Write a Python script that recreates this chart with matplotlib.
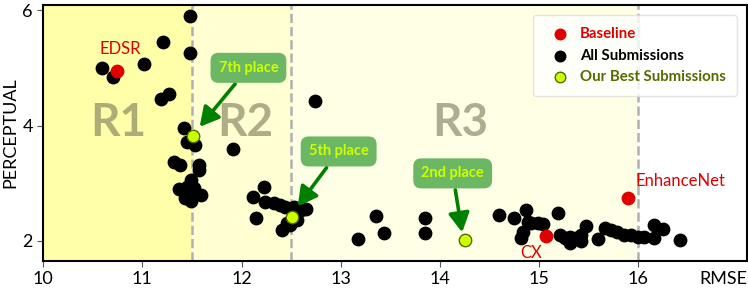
import matplotlib
matplotlib.use('Agg')
import matplotlib.pyplot as plt
import numpy as np

plt.rcParams['font.family'] = ['Lato', 'DejaVu Sans']

# all submissions (RMSE, perceptual)
sub_rmse = [10.59, 10.70, 11.02, 11.21, 11.48, 11.48, 11.27, 11.19, 11.42, 11.45, 11.53,
            11.32, 11.38, 11.57, 11.57, 11.49, 11.37, 11.45, 11.52, 11.59, 11.43, 11.49, 11.47,
            11.91, 12.12, 12.23, 12.15, 12.24, 12.33, 12.39, 12.44, 12.41, 12.46, 12.49, 12.53,
            12.56, 12.60, 12.65, 12.74,
            13.18, 13.36, 13.44, 13.85, 13.85, 14.60, 14.75, 14.87, 14.89, 14.84, 14.82, 14.92,
            14.99, 15.04, 15.19, 15.21, 15.26, 15.31, 15.31, 15.37, 15.42, 15.42, 15.47, 15.60,
            15.67, 15.73, 15.79, 15.86, 15.93, 16.00, 16.06, 16.16, 16.16, 16.25, 16.42]
sub_perc = [4.99, 4.84, 5.07, 5.44, 5.90, 5.26, 4.55, 4.46, 3.96, 3.72, 3.66,
            3.36, 3.32, 3.32, 3.23, 3.06, 2.90, 2.94, 2.91, 2.80, 2.74, 2.69, 2.85,
            3.59, 2.76, 2.94, 2.39, 2.68, 2.65, 2.62, 2.59, 2.19, 2.31, 2.28, 2.59,
            2.36, 2.54, 2.55, 4.43,
            2.03, 2.43, 2.13, 2.40, 2.14, 2.45, 2.39, 2.54, 2.33, 2.16, 2.05, 2.31,
            2.31, 2.29, 2.49, 2.10, 2.05, 2.06, 1.96, 2.05, 1.99, 2.10, 2.25, 2.03,
            2.23, 2.19, 2.15, 2.10, 2.10, 2.06, 2.06, 2.05, 2.28, 2.20, 2.02]

# baselines
base_names = ['EDSR', 'CX', 'EnhanceNet']
base_rmse = [10.74, 15.07, 15.90]
base_perc = [4.95, 2.09, 2.74]

# our best submissions
ours_rmse = [11.51, 12.51, 14.25]
ours_perc = [3.82, 2.42, 2.02]
ours_places = ['7th place', '5th place', '2nd place']

# region bounds
regions = ['R1', 'R2', 'R3']
bounds = [10, 11.5, 12.5, 16]

fig = plt.figure(figsize=(7.48, 2.92), dpi=100)
ax = fig.add_axes([0.0578, 0.106, 0.941, 0.877])

shade = ['#ffffaa', '#ffffd2', '#ffffe6']
for i in range(3):
    ax.axvspan(bounds[i], bounds[i + 1], color=shade[i], zorder=0, lw=0)
for b in bounds[1:]:
    ax.axvline(b, color='#b0b0b0', ls='--', lw=1.8, zorder=1)

ax.set_xlim(10, 17.1)
ax.set_ylim(1.65, 6.09)

for i, r in enumerate(regions):
    xc = [10.76, 12.04, 14.21][i]
    ax.text(xc, 4.04, r, fontsize=33, fontweight='bold', color='#777755',
            alpha=0.6, ha='center', va='center', zorder=1)

ax.scatter(base_rmse, base_perc, s=80, color='#e00000', zorder=4, label='Baseline')
ax.scatter(sub_rmse, sub_perc, s=80, color='black', zorder=3, label='All Submissions')
ax.scatter(ours_rmse, ours_perc, s=80, color='#ccff00', edgecolor='#556b00', lw=1,
           zorder=5, label='Our Best Submissions')

# baseline labels
ax.text(10.78, 5.32, 'EDSR', color='#dd0000', fontsize=12, ha='center', va='center')
ax.text(14.92, 1.79, 'CX', color='#dd0000', fontsize=12, ha='center', va='center')
ax.text(16.43, 3.04, 'EnhanceNet', color='#dd0000', fontsize=12, ha='center', va='center')

# place annotations
box_xy = [(12.07, 5.00), (12.98, 3.55), (14.13, 3.17)]
tips = [(11.56, 3.94), (12.55, 2.56), (14.23, 2.10)]
for i in range(3):
    ax.annotate(ours_places[i], xy=tips[i], xytext=box_xy[i],
                fontsize=10.5, fontweight='bold', color='#ccff00',
                ha='center', va='center', zorder=6,
                bbox=dict(boxstyle='round,pad=0.55', fc='#6cb763', ec='none'),
                arrowprops=dict(arrowstyle='-|>,head_length=1.1,head_width=0.6',
                                color='#008000', lw=2.6, shrinkA=1, shrinkB=2))

leg = ax.legend(loc='upper right', bbox_to_anchor=(0.997, 0.99),
                prop={'weight': 'bold', 'size': 10.8}, handletextpad=0.3,
                borderpad=0.8, labelspacing=0.5, handlelength=2.0, markerscale=0.85,
                framealpha=0.8, edgecolor='#dddddd', fancybox=True)
for t, c in zip(leg.get_texts(), ['#dd0000', 'black', '#556b00']):
    t.set_color(c)

ax.set_xticks([10, 11, 12, 13, 14, 15, 16])
ax.set_yticks([2, 4, 6])
ax.tick_params(labelsize=13, direction='out', length=4, color='#555555')
ax.set_ylabel('PERCEPTUAL', fontsize=13, labelpad=3)
ax.annotate('RMSE', xy=(1.0, 0), xycoords='axes fraction', xytext=(0, -7.5),
            textcoords='offset points', fontsize=13, ha='right', va='top')
for s in ax.spines.values():
    s.set_linewidth(1.5)

fig.savefig('out.png', dpi=100)
